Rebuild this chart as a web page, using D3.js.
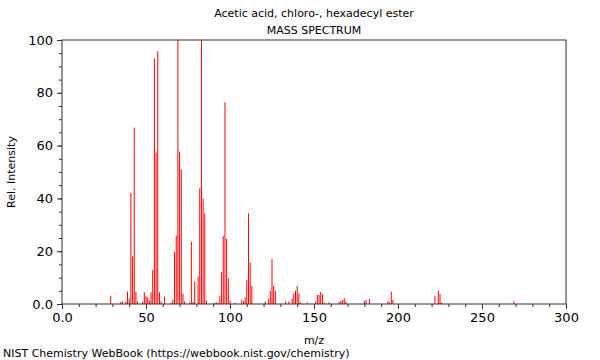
<!DOCTYPE html>
<html>
<head>
<meta charset="utf-8">
<script src="https://cdn.jsdelivr.net/npm/d3@7"></script>
<style>
  body { margin: 0; background: #fff; }
  text { font-family: "DejaVu Sans", sans-serif; fill: #000; }
</style>
</head>
<body>
<div id="chart"></div>
<script>
const title = 'Acetic acid, chloro-, hexadecyl ester'
const subtitle = 'MASS SPECTRUM'
const footer = 'NIST Chemistry WebBook (https://webbook.nist.gov/chemistry)'

const mz = [29,35,36,38,39,40,41,42,43,44,45,48,49,50,51,52,53,54,55,56,57,58,59,61,
  65,66,67,68,69,70,71,72,73,76,77,78,79,81,82,83,84,85,86,91,92,93,94,95,96,97,98,99,100,
  103,107,108,109,110,111,112,113,121,123,124,125,126,127,133,135,137,138,139,140,141,142,
  146,151,152,153,154,155,156,159,165,166,167,168,169,180,181,183,194,195,196,197,
  222,224,225,226,269]
const intensity = [3,0.8,1,1,4.7,2,42,18,66.8,4.7,1,0.8,4.5,3,2.5,1.3,4.4,13,93,57.4,95.8,4.4,1,2.8,
  0.5,1.7,19.7,26,100,57.7,51,4,1,0.6,23.6,0.8,8.5,10.5,43.8,99.9,40,34.3,1.3,0.5,0.5,0.6,3,12,25.7,76.4,24.6,9.7,1.3,
  0.5,1.5,1,2.5,9.1,34.3,15.7,6.8,1,2,5,17,7,5,1,1,2,4,5,6.8,4,0.6,
  0.6,1,3.4,3.4,4.5,3.7,0.6,0.6,0.8,1.2,1.5,2.2,1,1.2,1.5,1.9,1.1,0.6,4.7,1.5,
  3,5,3.8,0.6,1.2]

const xMajor = [0,50,100,150,200,250,300]
const yMajor = [0,20,40,60,80,100]

init()

function init(){
    const width = 600, height = 360
    const left = 62, right = 566, top = 40, bottom = 304

    let svg = d3.select('#chart')
                .append('svg')
                .attr('width', width)
                .attr('height', height)

    const x = d3.scaleLinear().domain([0,300]).range([left,right])
    const y = d3.scaleLinear().domain([0,100]).range([bottom,top])

    // peaks
    svg.append('g')
        .selectAll('line')
        .data(mz.map((m,i) => [m, intensity[i]]))
        .join('line')
        .attr('x1', d => x(d[0]))
        .attr('x2', d => x(d[0]))
        .attr('y1', y(0))
        .attr('y2', d => y(d[1]))
        .style('stroke','#ff0000')
        .style('stroke-width',1)

    // axes, minor ticks first then major
    const fmt = d => d === 0 ? '0.0' : d
    svg.append('g')
        .attr('transform',`translate(0,${bottom})`)
        .call(d3.axisBottom(x).tickValues(d3.range(0,301,10)).tickSize(3).tickFormat(''))
    svg.append('g')
        .attr('class','xaxis')
        .attr('transform',`translate(0,${bottom})`)
        .call(d3.axisBottom(x).tickValues(xMajor).tickSize(5).tickPadding(4).tickFormat(fmt))

    svg.append('g')
        .attr('transform',`translate(${left},0)`)
        .call(d3.axisLeft(y).tickValues(d3.range(0,101,5)).tickSize(3).tickFormat(''))
    svg.append('g')
        .attr('class','yaxis')
        .attr('transform',`translate(${left},0)`)
        .call(d3.axisLeft(y).tickValues(yMajor).tickSize(5).tickPadding(4).tickFormat(fmt))

    svg.selectAll('.domain').remove()
    svg.selectAll('.tick line').style('stroke','#333')
    svg.selectAll('.xaxis text, .yaxis text')
        .style('font-size','13px')
        .style('font-family','"DejaVu Sans", sans-serif')

    // frame
    svg.append('rect')
        .attr('x', left)
        .attr('y', top)
        .attr('width', right-left)
        .attr('height', bottom-top)
        .style('fill','none')
        .style('stroke','#333')
        .style('stroke-width',1)

    // titles
    svg.append('text')
        .attr('x', (left+right)/2)
        .attr('y', 17)
        .attr('text-anchor','middle')
        .style('font-size','11px')
        .text(title)
    svg.append('text')
        .attr('x', (left+right)/2)
        .attr('y', 34)
        .attr('text-anchor','middle')
        .style('font-size','11px')
        .text(subtitle)

    svg.append('text')
        .attr('x', (left+right)/2)
        .attr('y', 344)
        .attr('text-anchor','middle')
        .style('font-size','11px')
        .text('m/z')

    svg.append('text')
        .attr('transform',`translate(15,${(top+bottom)/2}) rotate(-90)`)
        .attr('text-anchor','middle')
        .style('font-size','11px')
        .text('Rel. Intensity')

    svg.append('text')
        .attr('x', 3)
        .attr('y', 357)
        .style('font-size','11px')
        .text(footer)
}
</script>
</body>
</html>
